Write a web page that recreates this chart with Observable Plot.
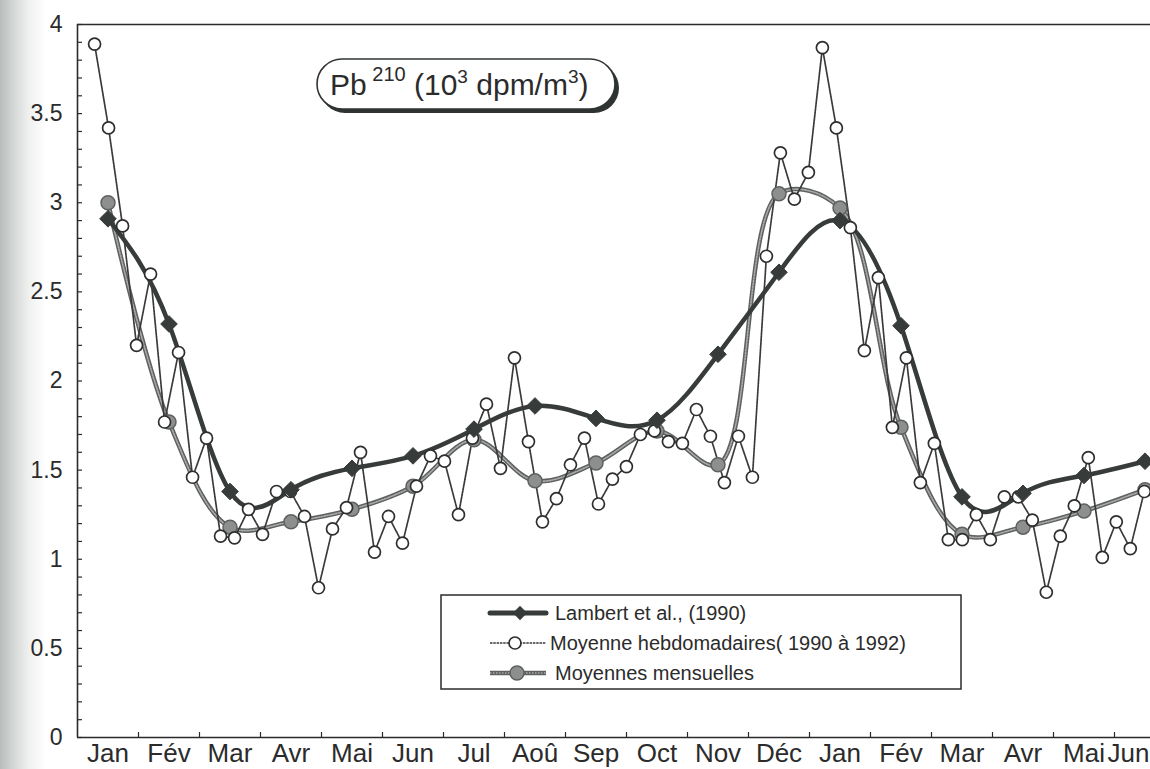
<!DOCTYPE html>
<html>
<head>
<meta charset="utf-8">
<script src="https://cdn.jsdelivr.net/npm/d3@7"></script>
<script src="https://cdn.jsdelivr.net/npm/@observablehq/plot@0.6"></script>
<style>
  html, body { margin: 0; padding: 0; }
  body {
    width: 1150px; height: 769px; overflow: hidden;
    background: linear-gradient(to right, #b8bcbb 0px, #d6d8d8 14px, #eeefef 28px, #ffffff 46px);
    font-family: "Liberation Sans", Arial, Helvetica, sans-serif;
  }
  #chart svg { display: block; overflow: hidden; }
</style>
</head>
<body>
<div id="chart"></div>
<script>
// ---------- data ----------
const months = ["Jan","Fév","Mar","Avr","Mai","Jun","Jul","Aoû","Sep","Oct","Nov","Déc","Jan","Fév","Mar","Avr","Mai","Jun"];
const yTickLabels = [0, 0.5, 1, 1.5, 2, 2.5, 3, 3.5, 4];

// Lambert et al., (1990) – monthly values (mid-month)
const lambert = [2.91, 2.32, 1.38, 1.39, 1.51, 1.58, 1.73, 1.86, 1.79, 1.78, 2.15, 2.61,
                 2.90, 2.31, 1.35, 1.37, 1.47, 1.55];

// Moyennes mensuelles – monthly values (mid-month)
const mensuelles = [3.00, 1.77, 1.18, 1.21, 1.28, 1.41, 1.67, 1.44, 1.54, 1.72, 1.53, 3.05,
                    2.97, 1.74, 1.14, 1.18, 1.27, 1.39];

// Moyenne hebdomadaires (1990 à 1992) – weekly values
const hebdo = [3.89, 3.42, 2.87, 2.20, 2.60, 1.77, 2.16, 1.46, 1.68, 1.13,
               1.12, 1.28, 1.14, 1.38, 1.38, 1.24, 0.84, 1.17, 1.29, 1.60,
               1.04, 1.24, 1.09, 1.41, 1.58, 1.55, 1.25, 1.68, 1.87, 1.51,
               2.13, 1.66, 1.21, 1.34, 1.53, 1.68, 1.31, 1.45, 1.52, 1.70,
               1.72, 1.66, 1.65, 1.84, 1.69, 1.43, 1.69, 1.46, 2.70, 3.28,
               3.02, 3.17, 3.87, 3.42, 2.86, 2.17, 2.58, 1.74, 2.13, 1.43,
               1.65, 1.11, 1.11, 1.25, 1.11, 1.35, 1.35, 1.22, 0.815, 1.13,
               1.30, 1.57, 1.01, 1.21, 1.06, 1.38];

// ---------- layout helpers ----------
const W = 1150, H = 769;
const mL = 77, mR = 0, mT = 24, mB = 32;
const pxPerMonth = 61;
const xMax = (W - mL - mR) / pxPerMonth;
const weekStart = 0.28, weekStep = 12 / 52.3;
const monthMid = (d, i) => i + 0.5;
const weekX = (d, i) => weekStart + i * weekStep;
const yMinor = d3.range(0, 41).map(i => i / 10);
const monthTicks = d3.range(1, months.length + 1);

const dark = "#373c3a";
const greyLine = "#5e6160";
const greyFill = "#8c8f8e";
const ink = "#2b2b2b";

const innerW = W - mL - mR, innerH = H - mT - mB;
const lastIdx = months.length - 1;

const chart = Plot.plot({
  width: W, height: H,
  marginLeft: mL, marginRight: mR, marginTop: mT, marginBottom: mB,
  x: {domain: [0, xMax], axis: null},
  y: {domain: [0, 4], axis: null},
  style: {background: "transparent", fontFamily: "'Liberation Sans', Arial, sans-serif", color: ink},
  marks: [
    // frame lines
    Plot.ruleX([0], {stroke: ink, strokeWidth: 1.6}),
    Plot.ruleY([0], {stroke: ink, strokeWidth: 1.6}),
    Plot.ruleY([4], {stroke: ink, strokeWidth: 1.4}),
    // inward ticks
    Plot.tickY(yMinor, {y: d => d, insetRight: innerW - 5, stroke: ink, strokeWidth: 1.2}),
    Plot.tickX(monthTicks, {x: d => d, insetTop: innerH - 5, stroke: ink, strokeWidth: 1.2}),
    // axis labels
    Plot.text(yTickLabels, {y: d => d, text: d => String(d), frameAnchor: "left", dx: -15,
      textAnchor: "end", lineAnchor: "middle", fontSize: 23, fill: ink}),
    Plot.text(months.slice(0, lastIdx), {x: monthMid, text: d => d, frameAnchor: "bottom", dy: 6,
      lineAnchor: "top", fontSize: 26, fill: ink}),
    // last label kept inside the picture
    Plot.text([months[lastIdx]], {frameAnchor: "bottom-right", dx: -1, dy: 6, text: d => d,
      textAnchor: "end", lineAnchor: "top", fontSize: 26, fill: ink}),

    // monthly means line (textured grey)
    Plot.line(mensuelles, {x: monthMid, y: d => d, curve: "catmull-rom", stroke: greyLine, strokeWidth: 4.5}),
    Plot.line(mensuelles, {x: monthMid, y: d => d, curve: "catmull-rom", stroke: "#a9acab", strokeWidth: 1.6, strokeDasharray: "1.5,1.5"}),
    // weekly line
    Plot.line(hebdo, {x: weekX, y: d => d, stroke: "#3a3a3a", strokeWidth: 1.7, strokeDasharray: "2.5,0.8"}),
    // Lambert line
    Plot.line(lambert, {x: monthMid, y: d => d, curve: "natural", stroke: dark, strokeWidth: 4.5}),

    // markers
    Plot.dot(mensuelles, {x: monthMid, y: d => d, r: 7, fill: greyFill, stroke: greyLine, strokeWidth: 1.5}),
    Plot.dot(hebdo, {x: weekX, y: d => d, r: 6, fill: "white", stroke: "#2e2e2e", strokeWidth: 1.7}),
    Plot.dot(lambert, {x: monthMid, y: d => d, symbol: "diamond2", r: 7.5, fill: dark, stroke: dark, strokeWidth: 1})
  ]
});

document.getElementById("chart").appendChild(chart);

// ---------- title box & legend ----------
const svg = d3.select(chart);
const font = "'Liberation Sans', Arial, sans-serif";

// title pill with shadow
const tg = svg.append("g").attr("text-anchor", "start");
tg.append("rect").attr("x", 320).attr("y", 63).attr("width", 299).attr("height", 50)
  .attr("rx", 25).attr("fill", "#2f3432");
tg.append("rect").attr("x", 317).attr("y", 59).attr("width", 298).attr("height", 50)
  .attr("rx", 25).attr("fill", "white").attr("stroke", "#2f3432").attr("stroke-width", 1.6);
const tt = tg.append("text").attr("x", 330).attr("y", 95).attr("text-anchor", "start")
  .attr("font-family", font).attr("font-size", 30).attr("fill", ink);
tt.append("tspan").text("Pb");
tt.append("tspan").attr("dy", -14).attr("font-size", 20).text(" 210");
tt.append("tspan").attr("dy", 14).text(" (10");
tt.append("tspan").attr("dy", -12).attr("font-size", 19).text("3");
tt.append("tspan").attr("dy", 12).text(" dpm/m");
tt.append("tspan").attr("dy", -12).attr("font-size", 19).text("3");
tt.append("tspan").attr("dy", 12).text(")");

// legend
const lg = svg.append("g").attr("text-anchor", "start");
lg.append("rect").attr("x", 441).attr("y", 595).attr("width", 520).attr("height", 94)
  .attr("fill", "white").attr("stroke", ink).attr("stroke-width", 1.5);
const rows = [613, 643, 673];
// Lambert
lg.append("line").attr("x1", 490).attr("x2", 546).attr("y1", rows[0]).attr("y2", rows[0])
  .attr("stroke", dark).attr("stroke-width", 5).attr("stroke-linecap", "round");
lg.append("path").attr("d", d3.symbol(d3.symbolDiamond2, 130)()).attr("transform", `translate(520,${rows[0]})`)
  .attr("fill", dark);
// weekly
lg.append("line").attr("x1", 490).attr("x2", 546).attr("y1", rows[1]).attr("y2", rows[1])
  .attr("stroke", "#3a3a3a").attr("stroke-width", 1.7).attr("stroke-dasharray", "2.5,0.8");
lg.append("circle").attr("cx", 515).attr("cy", rows[1]).attr("r", 6)
  .attr("fill", "white").attr("stroke", "#2e2e2e").attr("stroke-width", 1.7);
// monthly
lg.append("line").attr("x1", 490).attr("x2", 546).attr("y1", rows[2]).attr("y2", rows[2])
  .attr("stroke", greyLine).attr("stroke-width", 4.5);
lg.append("line").attr("x1", 490).attr("x2", 546).attr("y1", rows[2]).attr("y2", rows[2])
  .attr("stroke", "#a9acab").attr("stroke-width", 1.6).attr("stroke-dasharray", "1.5,1.5");
lg.append("circle").attr("cx", 517).attr("cy", rows[2]).attr("r", 7)
  .attr("fill", greyFill).attr("stroke", greyLine).attr("stroke-width", 1.5);

const labels = [
  {x: 555, t: "Lambert et al., (1990)"},
  {x: 550, t: "Moyenne hebdomadaires( 1990 à 1992)"},
  {x: 555, t: "Moyennes mensuelles"}
];
labels.forEach((l, i) => {
  lg.append("text").attr("x", l.x).attr("y", rows[i]).attr("dy", "0.35em").attr("text-anchor", "start")
    .attr("font-family", font).attr("font-size", 20).attr("fill", ink).text(l.t);
});
</script>
</body>
</html>
